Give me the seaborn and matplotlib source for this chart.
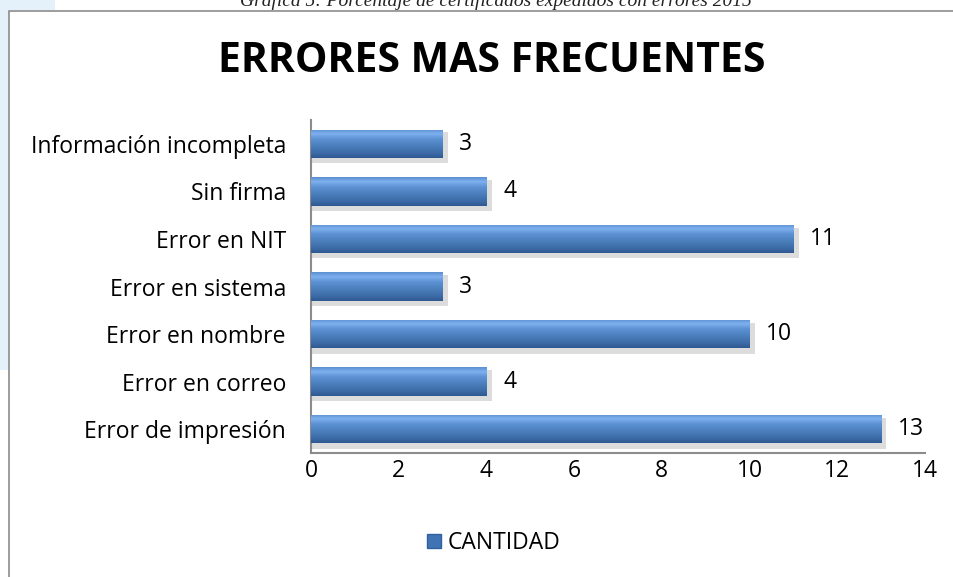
import numpy as np
import pandas as pd
import matplotlib
matplotlib.use("Agg")
import matplotlib.pyplot as plt
import matplotlib.patches as mpatches
from matplotlib.colors import LinearSegmentedColormap
import seaborn as sns

categorias = ["Información incompleta", "Sin firma", "Error en NIT", "Error en sistema",
              "Error en nombre", "Error en correo", "Error de impresión"]
cantidad = [3, 4, 11, 3, 10, 4, 13]
serie = "CANTIDAD"
titulo = "ERRORES MAS FRECUENTES"
leyenda_doc = "Gráfica 5: Porcentaje de certificados expedidos con errores 2015"

df = pd.DataFrame({"categoria": categorias, "cantidad": cantidad})

sns.set_theme(style="white")
plt.rcParams["font.family"] = ["Open Sans", "DejaVu Sans"]
plt.rcParams["text.color"] = "black"

fig = plt.figure(figsize=(9.54, 5.77), dpi=100)
W, H = 954, 577
fs = 16.5

# document background bits around the chart frame
fig.patches.append(mpatches.Rectangle((0, 1 - 370 / H), 9 / W, 370 / H, transform=fig.transFigure,
                                      facecolor="#e4f1fb", edgecolor="none", zorder=0))
fig.patches.append(mpatches.Rectangle((0, 1 - 10 / H), 55 / W, 10 / H, transform=fig.transFigure,
                                      facecolor="#e4f1fb", edgecolor="none", zorder=0))
fig.patches.append(mpatches.Rectangle((9.5 / W, -0.01), 1.0, 1 - 10.5 / H + 0.01, transform=fig.transFigure,
                                      facecolor="white", edgecolor="#8c8c8c", linewidth=1.2, zorder=0))
fig.text(496 / W, 1 - 1 / H, leyenda_doc, family="Liberation Serif", style="italic",
         fontsize=14, ha="center", va="center", color="#222222")

ax = fig.add_axes([311 / W, 1 - 453 / H, 614 / W, 333 / H])
ax.set_zorder(5)
ax.set_facecolor("none")
sns.barplot(data=df, x="cantidad", y="categoria", orient="h", color="#4a7ebb",
            width=0.6, ax=ax, zorder=3)

ax.set_xticks(range(0, 15, 2))
ax.set_xlabel("")
ax.set_ylabel("")
ax.tick_params(axis="both", length=0, labelsize=fs, colors="black")
ax.tick_params(axis="y", pad=18)
ax.tick_params(axis="x", pad=4)
for s in ["top", "right"]:
    ax.spines[s].set_visible(False)
for s in ["left", "bottom"]:
    ax.spines[s].set_color("#8c8c8c")
    ax.spines[s].set_linewidth(1.5)

# bevelled gradient fill + soft shadow for each bar
grad = LinearSegmentedColormap.from_list(
    "bev", [(0.0, "#5a8fd0"), (0.15, "#7fb0ee"), (0.35, "#5b90d3"), (0.6, "#4a7ebb"),
            (0.85, "#3c6aa6"), (1.0, "#2f5890")])
g = np.linspace(0, 1, 64).reshape(-1, 1)
for p, v in zip(ax.patches, cantidad):
    x0, y0 = p.get_x(), p.get_y()
    w, h = p.get_width(), p.get_height()
    sh = mpatches.Rectangle((x0, y0 + 0.06), w + 0.12, h + 0.05, facecolor="#dcdcdc",
                            edgecolor="none", zorder=2)
    ax.add_patch(sh)
    im = ax.imshow(g, cmap=grad, aspect="auto", extent=[x0, x0 + w, y0 + h, y0],
                   origin="upper", zorder=4)
    im.set_clip_path(p)
    p.set_edgecolor("none")
    ax.text(v + 0.38, y0 + h / 2, str(v), va="center", ha="left", fontsize=fs, color="black", zorder=5)

ax.set_xlim(0, 14)
ax.set_ylim(6.5, -0.5)

fig.text(492 / W, 1 - 62 / H, titulo, fontsize=29.5, fontweight="bold", ha="center", va="center",
         color="black")

handle = mpatches.Patch(facecolor="#3f73b3", edgecolor="#2f5f9c", label=serie)
fig.legend(handles=[handle], loc="center", bbox_to_anchor=(494 / W, 1 - 543 / H), frameon=False,
           fontsize=fs, handlelength=0.6, handleheight=0.6, handletextpad=0.3)

fig.savefig("out.png", dpi=100)
